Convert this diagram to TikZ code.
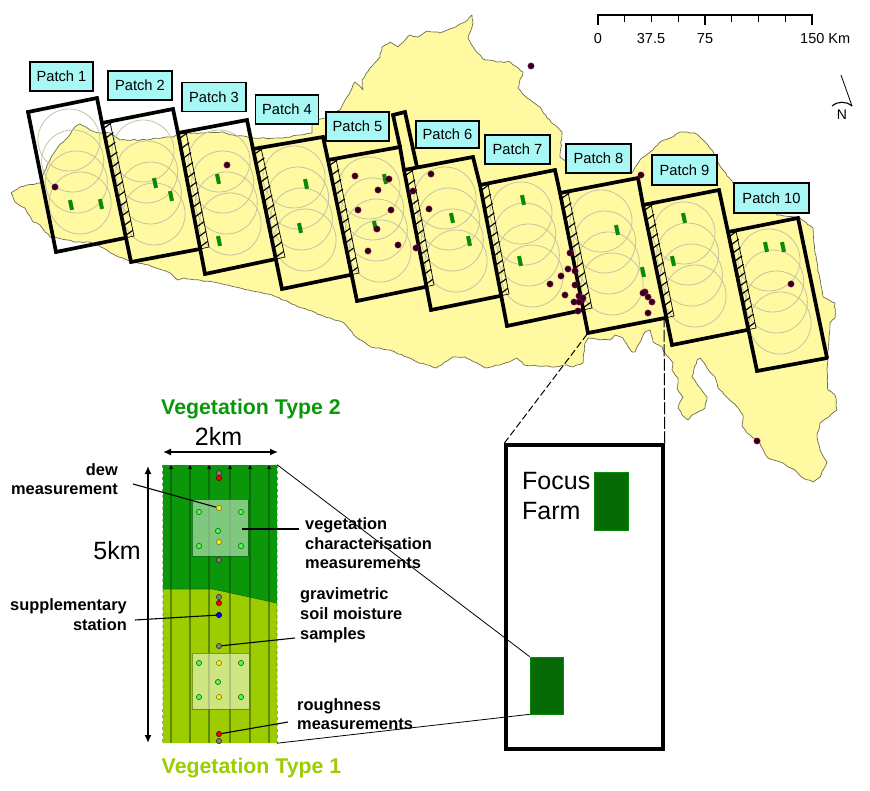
\documentclass[tikz,border=0pt]{standalone}
\usepackage{fontspec}
\setmainfont{Liberation Sans}
\usetikzlibrary{calc,arrows.meta,decorations.pathmorphing}
\definecolor{land}{HTML}{FFF9A2}
\definecolor{coast}{HTML}{6E6C4E}
\definecolor{ringc}{HTML}{C4C3A2}
\definecolor{labelc}{HTML}{A8F8F6}
\definecolor{vegtwo}{HTML}{0A980A}
\definecolor{vegone}{HTML}{9DCC00}
\definecolor{linetwo}{HTML}{0A6E0A}
\definecolor{lineone}{HTML}{5E8A00}
\definecolor{farmg}{HTML}{066A06}
\definecolor{markg}{HTML}{0A8A0A}
\definecolor{dotc}{HTML}{2A0020}
\tikzset{
  thickframe/.style={line width=3.7pt,line join=miter,line cap=round},
  ringline/.style={ringc,line width=.8pt},
  hatchline/.style={black,line width=1.15pt},
  patchlabel/.style={draw=black,line width=1.5pt,fill=labelc,inner sep=0pt,font=\fontsize{14.7}{15}\selectfont,anchor=center},
  farmmark/.style={fill=markg,inner sep=0pt,minimum width=4pt,minimum height=10pt,rotate=12},
  sitedot/.style={circle,fill=dotc,draw=red!70!blue,line width=.4pt,inner sep=0pt,minimum size=6.4pt},
  samplept/.style={circle,draw=#1!45!black,fill=#1,line width=.7pt,inner sep=0pt,minimum size=5.2pt},
  lab/.style={font=\fontsize{16.4}{16.4}\selectfont\bfseries,inner sep=0pt},
  bigtext/.style={font=\fontsize{25}{25}\selectfont,inner sep=0pt},
  scaletext/.style={font=\fontsize{14.5}{15}\selectfont,inner sep=0pt},
  pointer/.style={black,line width=1.1pt},
  thinlink/.style={black,line width=.8pt},
  dimline/.style={black,line width=1.5pt,{Latex[length=8pt,width=7pt]}-{Latex[length=8pt,width=7pt]}},
  farmrect/.style={fill=farmg,draw=markg,line width=.6pt,inner sep=0pt,minimum width=33pt,minimum height=57pt},
}
% args: top-left, top-right, bottom-left, bottom end, next top-left
\newcommand{\patchframe}[5]{
  \foreach \k in {0,1,2,3}
    \draw[ringline] ($#1+(41+3.7*\k,28+21*\k)$) circle[radius=31];
  \draw[thickframe] #4 -- #3 -- #1 -- #2 -- #5;
}
% args: top-left, bottom end of the previous patch
\newcommand{\hatchstrip}[2]{
  \draw[black,line width=.7pt] ($#1+(8,-1)$) -- ($#2+(9,-2)$) -- #2;
  \foreach \t in {0.05,0.135,...,0.99}
    \draw[hatchline] ($#1!\t!#2$) -- ++(8.2,-6);
}
\begin{document}
\begin{tikzpicture}[x=1pt,y=-1pt]
\useasboundingbox (0,0) rectangle (870,791);
\pgfmathsetseed{7}
% land
\draw[fill=land,draw=coast,line width=.7pt,line join=round,decorate,decoration={random steps,segment length=3.5pt,amplitude=.6pt}]
 (11,193)--(20,187)--(40,183)--(44,172)--(50,160)--(58,147)--(68,137)--(74,128)--(80,124)--(90,130)--(100,133)--(110,133)--(120,140)--(140,140)--(173,137)--(180,133)--(200,133)--(223,132)--(233,135)--(253,138)--(283,138)--(300,135)--(312,133)--(313,120)--(325,118)--(340,110)--(347,97)--(355,82)--(363,90)--(362,80)--(373,65)--(380,57)--(382,47)--(390,42)--(398,47)--(410,35)--(418,37)--(427,31)--(440,33)--(453,28)--(465,22)--(472,15)--(473,22)--(468,38)--(475,50)--(483,59)--(497,62)--(510,62)--(523,72)--(518,88)--(527,98)--(540,107)--(547,118)--(562,132)--(560,157)--(567,162)--(600,170)--(632,173)--(640,160)--(653,150)--(660,142)--(670,138)--(680,132)--(695,133)--(703,140)--(712,150)--(717,160)--(723,170)--(733,183)--(760,205)--(777,215)--(800,218)--(813,228)--(815,253)--(823,297)--(835,303)--(835,318)--(830,323)--(827,370)--(828,390)--(835,395)--(837,410)--(820,423)--(817,435)--(820,450)--(827,462)--(820,477)--(813,482)--(803,478)--(795,470)--(780,462)--(768,458)--(758,441)--(747,433)--(742,425)--(743,415)--(737,407)--(718,388)--(715,377)--(707,368)--(700,358)--(697,360)--(692,377)--(707,397)--(705,408)--(692,415)--(688,420)--(682,415)--(678,408)--(683,397)--(677,388)--(678,378)--(672,370)--(673,363)--(665,353)--(662,347)--(653,342)--(650,330)--(645,332)--(635,352)--(632,352)--(623,338)--(615,335)--(610,340)--(600,340)--(588,338)--(585,343)--(583,363)--(573,367)--(567,365)--(555,367)--(524,365)--(517,358)--(509,362)--(486,368)--(465,357)--(453,357)--(436,368)--(417,362)--(390,350)--(371,347)--(356,337)--(344,323)--(321,315)--(295,305)--(272,295)--(249,290)--(218,283)--(184,278)--(178,280)--(168,272)--(149,265)--(132,262)--(115,255)--(101,247)--(90,242)--(77,242)--(50,237)--(40,225)--(33,222)--(25,208)--(15,202)--cycle;
% patches
\patchframe{(28,112)}{(97,98)}{(56,252)}{(125,238)}{(102,123)}
\patchframe{(102,123)}{(173,109)}{(131,262)}{(200,249)}{(178,133)}
\patchframe{(178,133)}{(247,120)}{(205,274)}{(276,259)}{(253,149)}
\patchframe{(253,149)}{(323,137)}{(282,289)}{(350,275)}{(328,160)}
\patchframe{(328,160)}{(400,147)}{(357,301)}{(425,287)}{(404,170)}
\draw[thickframe] (400,147) -- (393,115) -- (405,112) -- (417,167);
\patchframe{(404,170)}{(473,157)}{(431,310)}{(500,296)}{(480,185)}
\patchframe{(480,185)}{(555,170)}{(507,326)}{(583,310)}{(560,193)}
\patchframe{(560,193)}{(638,178)}{(588,333)}{(665,318)}{(643,205)}
\patchframe{(643,205)}{(719,190)}{(672,345)}{(747,330)}{(728,232)}
\patchframe{(728,232)}{(798,218)}{(757,371)}{(827,358)}{(827,358)}
\hatchstrip{(102,123)}{(125,238)}
\hatchstrip{(178,133)}{(200,249)}
\hatchstrip{(253,149)}{(276,259)}
\hatchstrip{(328,160)}{(350,275)}
\hatchstrip{(404,170)}{(425,287)}
\hatchstrip{(480,185)}{(500,296)}
\hatchstrip{(560,193)}{(583,310)}
\hatchstrip{(643,205)}{(665,318)}
\hatchstrip{(728,232)}{(747,330)}
% farm marks
\foreach \p [count=\i] in {(71,205),(101,204),(155,183),(171,196),(218,179),(219,241),(306,184),(300,228),(385,179),(375,226),(452,218),(469,241),(523,200),(520,261),(617,230),(643,272),(684,218),(673,261),(766,247),(783,247)}
  \node[farmmark,name=mark\i] at \p {};
% sites
\foreach \p [count=\i] in {(55,187),(227,165),(355,176),(389,179),(378,190),(358,210),(391,210),(377,229),(398,245),(368,251),(413,191),(416,248),(431,174),(429,209),(570,253),(568,269),(575,271),(561,276),(550,284),(575,285),(565,295),(579,296),(574,302),(582,300),(579,302),(578,311),(583,298),(641,175),(645,292),(643,293),(648,297),(652,302),(648,313),(791,284),(531,66),(757,441)}
  \node[sitedot,name=site\i] at \p {};
% patch labels
\node[patchlabel,minimum width=63pt,minimum height=29pt] (lab1) at (61.5,76.5) {Patch 1};
\node[patchlabel,minimum width=64pt,minimum height=29pt] (lab2) at (140,85.5) {Patch 2};
\node[patchlabel,minimum width=64pt,minimum height=29pt] (lab3) at (214,97) {Patch 3};
\node[patchlabel,minimum width=63pt,minimum height=29pt] (lab4) at (287,109.5) {Patch 4};
\node[patchlabel,minimum width=63pt,minimum height=29pt] (lab5) at (357.5,126.5) {Patch 5};
\node[patchlabel,minimum width=63pt,minimum height=27pt] (lab6) at (447.5,134.5) {Patch 6};
\node[patchlabel,minimum width=65pt,minimum height=29pt] (lab7) at (517.5,149.5) {Patch 7};
\node[patchlabel,minimum width=65pt,minimum height=29pt] (lab8) at (598.5,158.5) {Patch 8};
\node[patchlabel,minimum width=65pt,minimum height=30pt] (lab9) at (684.5,170) {Patch 9};
\node[patchlabel,minimum width=75pt,minimum height=30pt] (lab10) at (771.5,198) {Patch 10};
% scale bar
\draw[black,line width=1.3pt] (598,25) -- (598,15) -- (812,15) -- (812,25);
\draw[black,line width=1.3pt] (705,15) -- (705,25);
\foreach \x in {624.75,651.5,678.25,731.75,758.5,785.25}
  \draw[black,line width=1.1pt] (\x,15) -- (\x,22);
\node[scaletext] (sc0) at (598,39) {0};
\node[scaletext] (sc1) at (651,39) {37.5};
\node[scaletext] (sc2) at (705,39) {75};
\node[scaletext,anchor=west] (sc3) at (800,39) {150 Km};
% north arrow
\draw[black,line width=.8pt] (841,75) -- (852,106);
\draw[black,line width=1.1pt] (832,106) .. controls (838,101) and (846,101) .. (852,106);
\node[font=\fontsize{14}{14}\selectfont,inner sep=0pt] (northn) at (842,115) {N};
% lower panel: field strip
\node[fill=vegtwo,inner sep=0pt,minimum width=114pt,minimum height=278pt] (stripbox) at (220,604) {};
\fill[vegone] (163,589) -- (213,589) -- (277,603) -- (277,743) -- (163,743) -- cycle;
\draw[linetwo,line width=.7pt,dashed] (stripbox.north west) -- (163,589);
\draw[linetwo,line width=.7pt,dashed] (stripbox.north east) -- (277,603);
\draw[lineone,line width=.7pt,dashed] (163,589) -- (stripbox.south west);
\draw[lineone,line width=.7pt,dashed] (277,603) -- (stripbox.south east);
\foreach \x/\y in {171/589,190/589,209/589,230/593,250/597,269/601}{
  \draw[lineone,line width=1.4pt] (\x,743) -- (\x,\y);
  \draw[linetwo,line width=1.4pt] (\x,\y) -- (\x,468);
  \fill[black] (\x-2,469) -- (\x,465) -- (\x+2,469) -- cycle;
}
\draw[linetwo,line width=.7pt] (163,589) -- (213,589) -- (277,603);
\node[fill=white,fill opacity=.48,draw=linetwo,draw opacity=.8,line width=.9pt,inner sep=0pt,minimum width=56pt,minimum height=57pt] (uppersq) at (220,527.5) {};
\node[fill=white,fill opacity=.5,draw=lineone,draw opacity=.8,line width=.9pt,inner sep=0pt,minimum width=57pt,minimum height=56pt] (lowersq) at (220.5,681) {};
% sample points
\foreach \p [count=\i] in {(219,473),(219,560),(219,597),(219,741)}
  \node[samplept=gray,name=gp\i] at \p {};
\node[samplept=gray] (gravpt) at (219,646) {};
\foreach \p [count=\i] in {(219,478),(219,603)}
  \node[samplept=red,name=rp\i] at \p {};
\node[samplept=red] (roughpt) at (219,734) {};
\node[samplept=yellow] (dewpt) at (219,508) {};
\foreach \p [count=\i] in {(219,542),(219,663),(219,697)}
  \node[samplept=yellow,name=yp\i] at \p {};
\node[samplept=blue] (suppt) at (219,615) {};
\foreach \p [count=\i] in {(199,512),(241,512),(218,531),(199,546),(241,546),(199,663),(241,663),(218,682),(199,697),(241,697)}
  \node[samplept=green!70!white,name=lg\i] at \p {};
% lower panel texts
\node[font=\fontsize{21.3}{21.3}\selectfont\bfseries,text=vegtwo,inner sep=0pt] (vt2) at (251,409) {Vegetation Type 2};
\node[font=\fontsize{21.3}{21.3}\selectfont\bfseries,text=vegone,inner sep=0pt] (vt1) at (251.5,768) {Vegetation Type 1};
\node[bigtext] (twokm) at (218.5,436) {2km};
\node[bigtext] (fivekm) at (117,551) {5km};
\draw[dimline] (163,452) -- (278,452);
\draw[dimline] (148,466) -- (148,743);
\node[lab,anchor=mid east] (dew1) at (118,473) {dew};
\node[lab,anchor=mid east] (dew2) at (118,492) {measurement};
\node[lab,anchor=mid east] (sup1) at (127,608) {supplementary};
\node[lab,anchor=mid east] (sup2) at (127,628) {station};
\node[lab,anchor=mid west] (veg1) at (305,527) {vegetation};
\node[lab,anchor=mid west] (veg2) at (305,547) {characterisation};
\node[lab,anchor=mid west] (veg3) at (305,566) {measurements};
\node[lab,anchor=mid west] (gra1) at (300,597) {gravimetric};
\node[lab,anchor=mid west] (gra2) at (300,617) {soil moisture};
\node[lab,anchor=mid west] (gra3) at (300,637) {samples};
\node[lab,anchor=mid west] (rou1) at (297,708) {roughness};
\node[lab,anchor=mid west] (rou2) at (297,727) {measurements};
% pointers
\coordinate (dewfree) at (133,484);
\coordinate (vegfree) at (299,529);
\coordinate (vegpt) at (242,529);
\coordinate (supfree) at (135,620);
\coordinate (grafree) at (295,638);
\coordinate (roufree) at (288,722);
\draw[pointer] (dewfree) -- (dewpt);
\draw[pointer] (vegpt) -- (vegfree);
\draw[pointer] (supfree) -- (suppt);
\draw[pointer] (gravpt) -- (grafree);
\draw[pointer] (roughpt) -- (roufree);
% focus farm box
\node[draw=black,line width=3.5pt,inner sep=0pt,minimum width=157pt,minimum height=304pt] (bigbox) at (584.5,597) {};
\node[farmrect,minimum height=58pt,minimum width=34pt] (farmup) at (611,501) {};
\node[farmrect] (farmlow) at (546.5,685.5) {};
\node[bigtext,anchor=mid west] (focus) at (522,487) {Focus};
\node[bigtext,anchor=mid west] (farm) at (522,517) {Farm};
\draw[thinlink] (stripbox.north east) -- (farmlow.north west);
\draw[thinlink] (stripbox.south east) -- (farmlow.south west);
\coordinate (eightbl) at (588,333);
\coordinate (eightend) at (664,318);
\draw[black,line width=1pt,dash pattern=on 7pt off 3pt] (bigbox.north west) -- (eightbl);
\draw[black,line width=1pt,dash pattern=on 12pt off 2.5pt] (bigbox.north east) -- (eightend);
\end{tikzpicture}
\end{document}
